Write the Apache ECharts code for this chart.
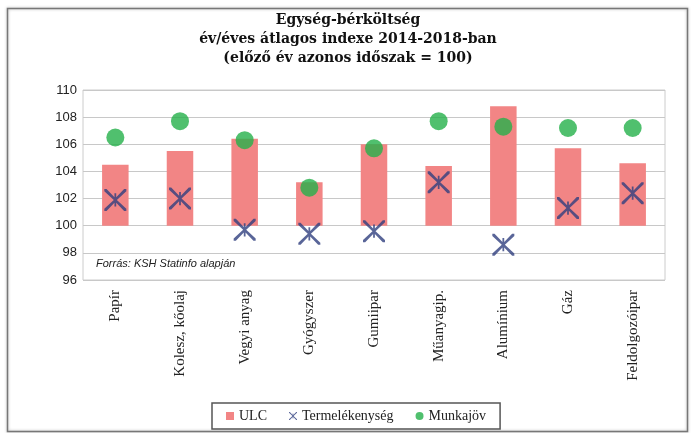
<!DOCTYPE html>
<html>
<head>
<meta charset="utf-8">
<script src="https://cdn.jsdelivr.net/npm/echarts@6/dist/echarts.min.js"></script>
<style>
  html, body { margin: 0; padding: 0; background: #fff; }
  #chart { width: 691px; height: 433px; }
</style>
</head>
<body>
<div id="chart"></div>
<script>
  // kategóriák és értékek (leolvasva)
  var categories = ['Papír', 'Kolesz, kőolaj', 'Vegyi anyag', 'Gyógyszer', 'Gumiipar', 'Műanyagip.', 'Alumínium', 'Gáz', 'Feldolgozóipar']
  var ulc = [104.5, 105.5, 106.4, 103.2, 106.0, 104.4, 108.8, 105.7, 104.6]
  var termelekenyseg = [101.9, 102.0, 99.7, 99.4, 99.6, 103.2, 98.6, 101.3, 102.4]
  var munkajov = [106.5, 107.7, 106.3, 102.8, 105.7, 107.7, 107.3, 107.2, 107.2]
  var yTicks = [96, 98, 100, 102, 104, 106, 108, 110]
  var baseLine = 100

  // csillag-szerű x jel (Excel marker)
  var crossPath = 'path://M0,0 L2,0 L9.2,7.5 L9.2,4 L10.8,4 L10.8,7.5 L18,0 L20,0 L20,2 L11.4,10 L20,18 L20,20 L18,20 L10.8,12.5 L10.8,16 L9.2,16 L9.2,12.5 L2,20 L0,20 L0,18 L8.6,10 L0,2 Z'

  var myChart = echarts.init(document.getElementById('chart'))
  myChart.setOption({
    animation: false,
    backgroundColor: '#fff',
    title: {
      text: 'Egység-bérköltség\név/éves átlagos indexe 2014-2018-ban\n(előző év azonos időszak = 100)',
      left: 343,
      textAlign: 'center',
      top: 6,
      textStyle: {
        fontFamily: 'DejaVu Serif',
        fontWeight: 'bold',
        fontSize: 14,
        lineHeight: 19,
        color: '#111'
      }
    },
    graphic: [
      {
        type: 'rect',
        left: 5, top: 6,
        shape: { width: 680, height: 423 },
        style: { fill: 'none', stroke: '#777', lineWidth: 1.5, shadowBlur: 3, shadowColor: 'rgba(0,0,0,0.3)' },
        z: -1
      },
      {
        type: 'text',
        left: 96, top: 258,
        style: {
          text: 'Forrás: KSH Statinfo alapján',
          font: 'italic 11px "Liberation Sans", sans-serif',
          fill: '#222'
        },
        z: 10
      }
    ],
    legend: {
      left: 212,
      top: 403,
      itemGap: 22,
      itemWidth: 8,
      itemHeight: 8,
      padding: [6, 14, 6, 14],
      borderColor: '#555',
      borderWidth: 1.5,
      textStyle: { fontFamily: 'Liberation Serif', fontSize: 14, color: '#222' },
      data: [
        { name: 'ULC', icon: 'rect' },
        { name: 'Termelékenység', icon: crossPath },
        { name: 'Munkajöv', icon: 'circle' }
      ]
    },
    grid: {
      left: 83,
      right: 26,
      top: 90,
      bottom: 153,
      show: true,
      borderColor: '#ccc',
      borderWidth: 1
    },
    xAxis: {
      type: 'category',
      data: categories,
      axisLine: { show: false },
      axisTick: { show: false },
      axisLabel: {
        rotate: 90,
        margin: 10,
        fontFamily: 'Liberation Serif',
        fontSize: 15,
        color: '#222',
        interval: 0
      }
    },
    yAxis: {
      type: 'value',
      min: yTicks[0],
      max: yTicks[yTicks.length - 1],
      interval: 2,
      axisLine: { show: false },
      axisTick: { show: false },
      axisLabel: {
        margin: 6,
        fontFamily: 'Liberation Sans',
        fontSize: 13,
        color: '#222'
      },
      splitLine: { lineStyle: { color: '#c8c8c8', width: 1 } }
    },
    series: [
      {
        name: 'alap',
        type: 'bar',
        stack: 'ulc',
        barWidth: '41%',
        itemStyle: { color: 'transparent' },
        data: ulc.map(function () { return baseLine }),
        silent: true
      },
      {
        name: 'ULC',
        type: 'bar',
        stack: 'ulc',
        barWidth: '41%',
        itemStyle: { color: '#f28585' },
        data: ulc.map(function (v) { return +(v - baseLine).toFixed(2) })
      },
      {
        name: 'Termelékenység',
        type: 'scatter',
        symbol: crossPath,
        symbolSize: 22,
        itemStyle: { color: '#2f3f7e' },
        data: termelekenyseg,
        z: 5
      },
      {
        name: 'Munkajöv',
        type: 'scatter',
        symbol: 'circle',
        symbolSize: 18,
        itemStyle: { color: '#24b04a' },
        data: munkajov,
        z: 6
      }
    ]
  })
</script>
</body>
</html>
